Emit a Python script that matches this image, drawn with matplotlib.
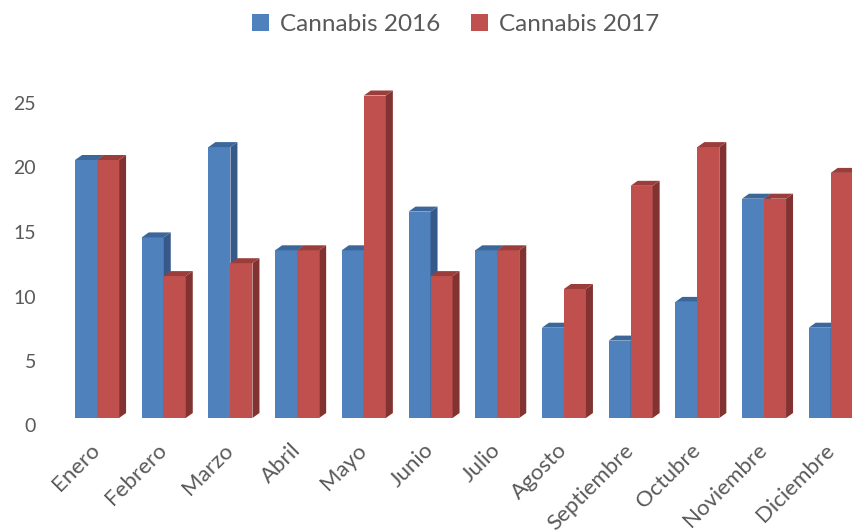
#! /usr/bin/env python3

import matplotlib.pyplot as plt
import matplotlib.transforms as mtransforms
from matplotlib.patches import Polygon, Patch
import numpy as np

months = ['Enero', 'Febrero', 'Marzo', 'Abril', 'Mayo', 'Junio', 'Julio',
          'Agosto', 'Septiembre', 'Octubre', 'Noviembre', 'Diciembre']
cannabis_2016 = [20, 14, 21, 13, 13, 16, 13, 7, 6, 9, 17, 7]
cannabis_2017 = [20, 11, 12, 13, 25, 11, 13, 10, 18, 21, 17, 19]
series_names = ['Cannabis 2016', 'Cannabis 2017']
yticks = [0, 5, 10, 15, 20, 25]

# front, top, side colours for each series
colors = [('#4F81BD', '#3C679B', '#36598A'),
          ('#C0504D', '#9B3E3B', '#823331')]
text_color = '#595959'


def DrawBars(ax, x, values, width, cols, depth_px=(7, 5)):
    ax.bar(x, values, width=width, align='edge', color=cols[0],
           edgecolor='none', zorder=2)
    # convert pixel depth to data units
    inv = ax.transData.inverted()
    p0 = inv.transform((0, 0))
    p1 = inv.transform(depth_px)
    dx, dy = p1 - p0
    for xi, h in zip(x, values):
        top = [(xi, h), (xi + width, h), (xi + width + dx, h + dy), (xi + dx, h + dy)]
        side = [(xi + width, 0), (xi + width + dx, dy), (xi + width + dx, h + dy), (xi + width, h)]
        ax.add_patch(Polygon(side, closed=True, facecolor=cols[2], edgecolor='none', zorder=2))
        ax.add_patch(Polygon(top, closed=True, facecolor=cols[1], edgecolor='none', zorder=2))


def Plot():
    plt.rcParams['font.family'] = ['Lato', 'DejaVu Sans']
    fig = plt.figure(figsize=(8.52, 5.31), dpi=100)
    ax = fig.add_axes([0.07, 113 / 531, 0.93, 27 * 12.9 / 531])
    ax.set_xlim(-0.561, 11.319)
    ax.set_ylim(0, 27)

    w = 0.33
    x = np.arange(len(months))
    DrawBars(ax, x - w, cannabis_2016, w, colors[0])
    DrawBars(ax, x, cannabis_2017, w, colors[1])

    for s in ax.spines.values():
        s.set_visible(False)
    ax.set_yticks(yticks)
    ax.set_yticklabels([str(v) for v in yticks])
    ax.set_xticks(x)
    ax.set_xticklabels(months, rotation=45, ha='right', va='center',
                       rotation_mode='anchor')
    ax.tick_params(axis='y', length=0, pad=17, labelsize=14, labelcolor=text_color)
    ax.tick_params(axis='x', length=0, pad=21, labelsize=16, labelcolor=text_color)
    offset = mtransforms.ScaledTranslation(0, -7.5 / 100, fig.dpi_scale_trans)
    for lab in ax.get_yticklabels():
        lab.set_transform(lab.get_transform() + offset)

    handles = [Patch(facecolor=colors[i][0], label=series_names[i]) for i in range(2)]
    fig.legend(handles=handles, loc='center', bbox_to_anchor=(0.535, 0.953),
               ncol=2, frameon=False, fontsize=17.5, labelcolor=text_color,
               handlelength=0.7, handleheight=0.7, handletextpad=0.45,
               columnspacing=1.25)
    return fig


def Run():
    fig = Plot()
    fig.savefig('out.png', dpi=100)


if __name__ == "__main__":
    Run()
